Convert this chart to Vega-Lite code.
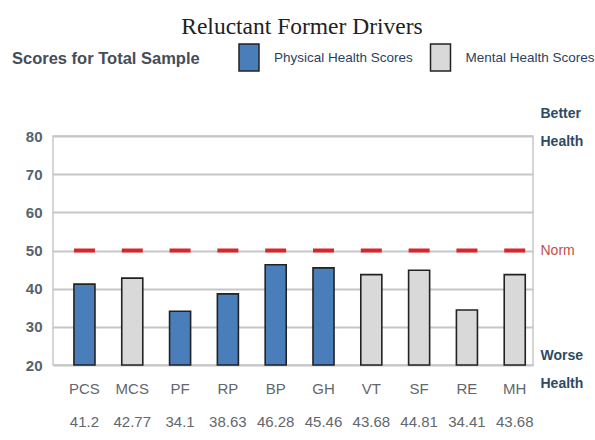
{
  "$schema": "https://vega.github.io/schema/vega-lite/v6.json",
  "autosize": {"type": "none"},
  "padding": {"left": 53, "top": 136, "right": 62, "bottom": 75},
  "width": 480,
  "height": 229,
  "background": "white",
  "title": {
    "text": "Reluctant Former Drivers",
    "font": "Liberation Serif",
    "fontSize": 23.5,
    "fontWeight": "normal",
    "color": "#222222",
    "anchor": "middle",
    "frame": "group",
    "dx": 9,
    "baseline": "alphabetic",
    "offset": -14
  },
  "config": {
    "view": {"stroke": "#c8c8c8", "strokeWidth": 1.5},
    "legend": {"labelLimit": 400, "titleLimit": 400}
  },
  "data": {
    "values": [
      {"measure": "PCS", "score": 41.2, "tickLabel": "PCS|41.2", "type": "Physical Health Scores", "norm": 50},
      {"measure": "MCS", "score": 42.77, "tickLabel": "MCS|42.77", "type": "Mental Health Scores", "norm": 50},
      {"measure": "PF", "score": 34.1, "tickLabel": "PF|34.1", "type": "Physical Health Scores", "norm": 50},
      {"measure": "RP", "score": 38.63, "tickLabel": "RP|38.63", "type": "Physical Health Scores", "norm": 50},
      {"measure": "BP", "score": 46.28, "tickLabel": "BP|46.28", "type": "Physical Health Scores", "norm": 50},
      {"measure": "GH", "score": 45.46, "tickLabel": "GH|45.46", "type": "Physical Health Scores", "norm": 50},
      {"measure": "VT", "score": 43.68, "tickLabel": "VT|43.68", "type": "Mental Health Scores", "norm": 50},
      {"measure": "SF", "score": 44.81, "tickLabel": "SF|44.81", "type": "Mental Health Scores", "norm": 50},
      {"measure": "RE", "score": 34.41, "tickLabel": "RE|34.41", "type": "Mental Health Scores", "norm": 50},
      {"measure": "MH", "score": 43.68, "tickLabel": "MH|43.68", "type": "Mental Health Scores", "norm": 50}
    ]
  },
  "encoding": {
    "x": {
      "field": "tickLabel",
      "type": "nominal",
      "sort": null,
      "scale": {"paddingInner": 0.56, "paddingOuter": 0.3, "align": 0.73},
      "axis": {
        "title": null,
        "labelExpr": "split(datum.label, '|')",
        "labelAngle": 0,
        "labelFont": "Liberation Sans",
        "labelFontSize": 15,
        "labelColor": "#62676d",
        "labelLineHeight": 33,
        "labelPadding": 16,
        "ticks": false,
        "domain": false,
        "labelLimit": 200
      }
    }
  },
  "layer": [
    {
      "mark": {"type": "bar", "stroke": "#222222", "strokeWidth": 1.6},
      "encoding": {
        "y": {
          "field": "score",
          "type": "quantitative",
          "scale": {"domain": [20, 80], "zero": false, "nice": false},
          "axis": {
            "title": null,
            "values": [20, 30, 40, 50, 60, 70, 80],
            "grid": true,
            "gridColor": "#c6c6c6",
            "gridWidth": 2,
            "ticks": false,
            "domain": false,
            "labelFont": "Liberation Sans",
            "labelFontSize": 15,
            "labelFontWeight": "bold",
            "labelColor": "#56636e",
            "labelPadding": 11
          }
        },
        "y2": {"datum": 20},
        "color": {
          "field": "type",
          "type": "nominal",
          "sort": ["Physical Health Scores", "Mental Health Scores"],
          "scale": {"domain": ["Physical Health Scores", "Mental Health Scores"], "range": ["#4a7ebb", "#d9d9d9"]},
          "legend": {
            "title": "Scores for Total Sample",
            "orient": "none",
            "legendX": -41,
            "legendY": -93,
            "direction": "horizontal",
            "titleOrient": "left",
            "titleAnchor": "middle",
            "titleBaseline": "middle",
            "titleFont": "Liberation Sans",
            "titleFontSize": 16.5,
            "titleFontWeight": "bold",
            "titleColor": "#454d58",
            "titlePadding": 34.5,
            "labelFont": "Liberation Sans",
            "labelFontSize": 13.5,
            "labelColor": "#2b3f63",
            "labelOffset": 10.5,
            "columnPadding": 12.5,
            "symbolType": "M-0.74,-1H0.74V1H-0.74Z",
            "symbolSize": 729,
            "symbolStrokeColor": "#222222",
            "symbolStrokeWidth": 1.5,
            "symbolOpacity": 1
          }
        }
      }
    },
    {
      "mark": {"type": "tick", "color": "#d8262c", "thickness": 4, "size": 21, "opacity": 1},
      "encoding": {
        "y": {
          "field": "norm",
          "type": "quantitative",
          "axis": {
            "orient": "right",
            "title": null,
            "values": [20, 50, 80],
            "grid": false,
            "ticks": false,
            "domain": false,
            "labelOverlap": false,
            "labelExpr": "datum.value == 80 ? ['Better', 'Health'] : datum.value == 50 ? 'Norm' : ['Worse', 'Health']",
            "labelFont": "Liberation Sans",
            "labelFontSize": 14,
            "labelLineHeight": 28,
            "labelAlign": "left",
            "labelPadding": 7,
            "labelFontWeight": {"condition": {"test": "datum.value == 50", "value": "normal"}, "value": "bold"},
            "labelColor": {"condition": {"test": "datum.value == 50", "value": "#c0504d"}, "value": "#2e4a62"},
            "labelOffset": {"condition": [{"test": "datum.value == 80", "value": -23}, {"test": "datum.value == 20", "value": -10}], "value": 0}
          }
        }
      }
    }
  ],
  "resolve": {"axis": {"y": "independent"}, "scale": {"y": "shared"}}
}
